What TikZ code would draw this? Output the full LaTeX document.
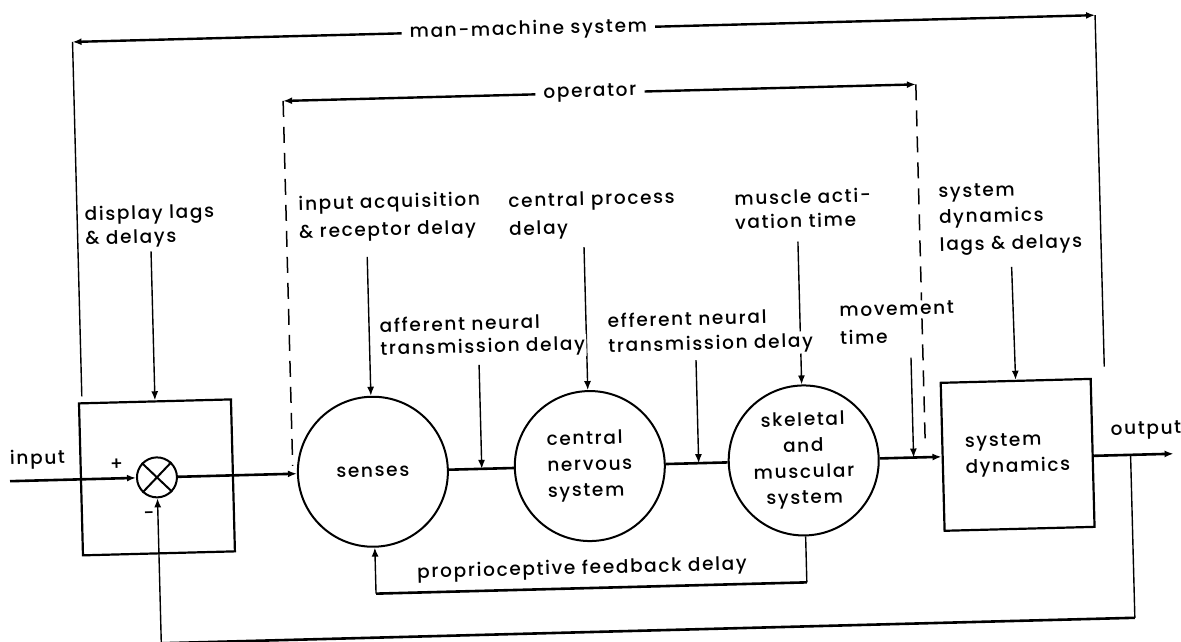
\documentclass[tikz,border=0pt]{standalone}
\usepackage{fontspec}
\setmainfont{Poppins}[UprightFont=* Medium, LetterSpace=9]
\usetikzlibrary{arrows.meta}
\newcommand{\lbfont}{\fontsize{18.5}{26}\selectfont}
\tikzset{
  lbl/.style={font=\lbfont, inner sep=1.5pt, align=left, fill=white},
  mainln/.style={line width=2.6pt},
  thinln/.style={line width=1.4pt},
  arr/.style={-{Latex[length=9pt,width=7pt]}},
  dimln/.style={line width=2.4pt},
  dashln/.style={line width=1.5pt, dash pattern=on 16pt off 10pt},
  blk/.style={draw, line width=2.2pt, inner sep=0},
  circ/.style={circle, draw, line width=2pt, minimum size=150pt, inner sep=0, font=\lbfont}
}
\begin{document}
\begin{tikzpicture}[x=1pt,y=-1pt]
\useasboundingbox (0,0) rectangle (1181,642);
\begin{scope}[rotate around={1.5:(590,321)}, transform shape]
% blocks
\node[blk, minimum width=152pt, minimum height=152pt] (disp) at (153,466) {};
\node[circle, draw, line width=2pt, minimum size=40pt, inner sep=0] (sum) at (153,466) {};
\draw[line width=2pt] (sum.north west) -- (sum.south east) (sum.north east) -- (sum.south west);
\node[circ] (sen) at (369,466) {senses};
\node[circ, align=left] (cns) at (586,466) {central\\nervous\\system};
\node[circ, align=center] (skel) at (800,466) {skeletal\\and\\muscular\\system};
\node[blk, minimum width=150pt, minimum height=148pt, font=\lbfont, align=left] (sys) at (1014,466) {system\\dynamics};

% coordinates
\coordinate (in) at (6,466);
\coordinate (out) at (1170,469);
\coordinate (fb) at (1127,469);
\coordinate (bot) at (153,632);
\coordinate (prop) at (369,588);
\coordinate (mmL) at (80,28.5);
\coordinate (mmR) at (1103,28.5);
\coordinate (mmLb) at (80,383);
\coordinate (mmRb) at (1103,380);
\coordinate (opL) at (289,93);
\coordinate (opR) at (922,93);
\coordinate (opLb) at (289,458);
\coordinate (opRb) at (922,457);
\coordinate (dispT) at (153,240);
\coordinate (senT) at (369,251);
\coordinate (affT) at (478,362);
\coordinate (cnsT) at (586,247);
\coordinate (effT) at (695,363);
\coordinate (musT) at (800,247);
\coordinate (movT) at (910,366);
\coordinate (sysT) at (1013,278);

% main signal path
\draw[mainln, arr] (in) -- (sum.west);
\draw[mainln, arr] (sum.east) -- (sen.west);
\draw[mainln] (sen.east) -- (cns.west);
\draw[mainln] (cns.east) -- (skel.west);
\draw[mainln, arr] (skel.east) -- (sys.west);
\draw[mainln, arr] (sys.east |- out) -- (out);

% outer feedback
\draw[thinln] (fb) -- (fb |- bot);
\draw[mainln] (fb |- bot) -- (bot);
\draw[thinln, arr] (bot) -- (sum.south);

% proprioceptive feedback
\draw[thinln] (skel.south) -- (skel.south |- prop);
\draw[mainln] (skel.south |- prop) -- (prop);
\draw[thinln, arr] (prop) -- (sen.south);

% delay arrows
\draw[thinln, arr] (dispT) -- (disp.north);
\draw[thinln, arr] (senT) -- (sen.north);
\draw[thinln, arr] (affT) -- (affT |- sen.east);
\draw[thinln, arr] (cnsT) -- (cns.north);
\draw[thinln, arr] (effT) -- (effT |- cns.east);
\draw[thinln, arr] (musT) -- (skel.north);
\draw[thinln, arr] (movT) -- (movT |- skel.east);
\draw[thinln, arr] (sysT) -- (sys.north);

% man-machine system span
\node[lbl, inner xsep=8pt] (mmtext) at (536,28.5) {man-machine system};
\draw[dimln, arr] (mmtext.west) -- (mmL);
\draw[dimln, arr] (mmtext.east) -- (mmR);
\draw[thinln] (mmL) -- (mmLb);
\draw[thinln] (mmR) -- (mmRb);

% operator span
\node[lbl, inner xsep=8pt] (optext) at (596,93) {operator};
\draw[dimln, arr] (optext.west) -- (opL);
\draw[dimln, arr] (optext.east) -- (opR);
\draw[dashln] (opL) -- (opLb);
\draw[dashln] (opR) -- (opRb);

% labels
\node[lbl, anchor=west] (dl1) at (86,203) {display lags};
\node[lbl, anchor=west] (dl2) at (86,227) {\& delays};
\node[lbl, anchor=west] (ia1) at (300,198) {input acquisition};
\node[lbl, anchor=west] (ia2) at (300,226) {\& receptor delay};
\node[lbl, anchor=west] (cp1) at (510,201) {central process};
\node[lbl, anchor=west] (cp2) at (510,229) {delay};
\node[lbl, anchor=west] (af1) at (378,320) {afferent neural};
\node[lbl, anchor=west] (af2) at (378,345) {transmission delay};
\node[lbl, anchor=west] (ef1) at (606,321) {efferent neural};
\node[lbl, anchor=west] (ef2) at (606,348) {transmission delay};
\node[lbl, anchor=west] (ma1) at (736,202) {muscle acti-};
\node[lbl, anchor=west] (ma2) at (736,226) {vation time};
\node[lbl, anchor=west] (mv1) at (838,317) {movement};
\node[lbl, anchor=west] (mv2) at (838,344) {time};
\node[lbl, anchor=west] (sd1) at (940,203) {system};
\node[lbl, anchor=west] (sd2) at (940,228) {dynamics};
\node[lbl, anchor=west] (sd3) at (940,256) {lags \& delays};
\node[lbl, anchor=west] (pf) at (409,569) {proprioceptive feedback delay};
\node[lbl] (intext) at (34,445) {input};
\node[lbl] (outtext) at (1143,445) {output};
\node[lbl, inner sep=0] (plus) at (113,452) {+};
\node[lbl, inner sep=0] (minus) at (144,504) {-};
\end{scope}
\end{tikzpicture}
\end{document}
